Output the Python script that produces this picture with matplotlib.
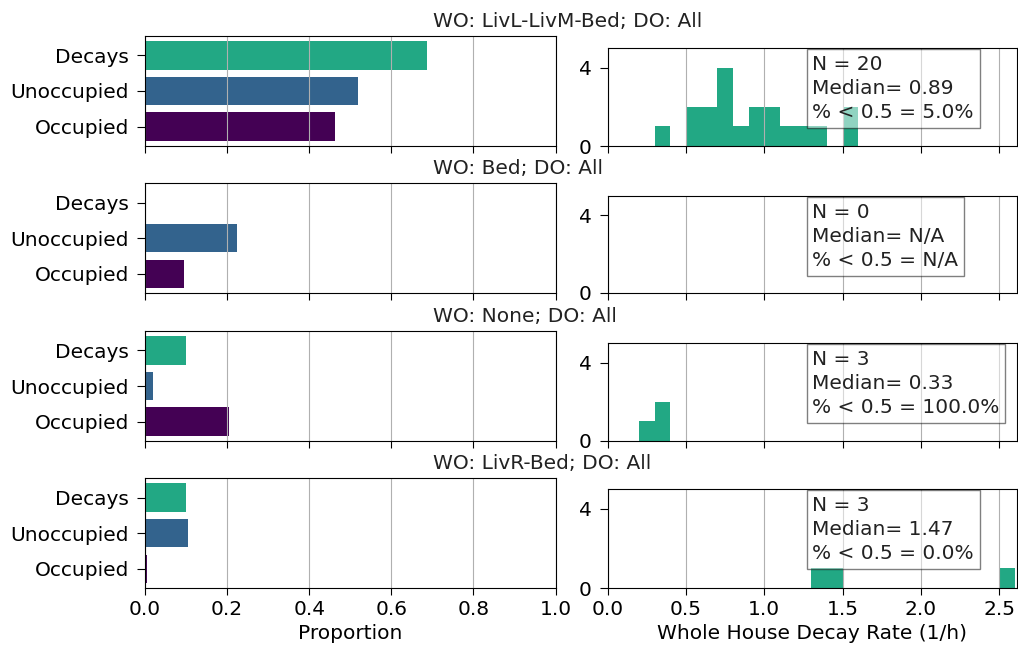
import numpy as np
import matplotlib.pyplot as plt

# categories / colours of the proportion bars
categories = ['Occupied', 'Unoccupied', 'Decays']
bar_colors = ['#440154', '#33638d', '#22a884']
hist_color = '#22a884'

titles = ['WO: LivL-LivM-Bed; DO: All',
          'WO: Bed; DO: All',
          'WO: None; DO: All',
          'WO: LivR-Bed; DO: All']

# proportions (Occupied, Unoccupied, Decays)
prop_1 = [0.462, 0.518, 0.687]
prop_2 = [0.095, 0.223, 0.0]
prop_3 = [0.205, 0.019, 0.101]
prop_4 = [0.006, 0.105, 0.101]

# histogram bins (left edge, width 0.1) and counts
bins_1 = [0.3, 0.5, 0.6, 0.7, 0.8, 0.9, 1.0, 1.1, 1.2, 1.3, 1.5]
counts_1 = [1, 2, 2, 4, 1, 2, 2, 1, 1, 1, 2]
bins_2 = []
counts_2 = []
bins_3 = [0.2, 0.3]
counts_3 = [1, 2]
bins_4 = [1.3, 1.4, 2.5]
counts_4 = [1, 1, 1]
bin_width = 0.1

stats = ['N = 20\nMedian= 0.89\n% < 0.5 = 5.0%',
         'N = 0\nMedian= N/A\n% < 0.5 = N/A',
         'N = 3\nMedian= 0.33\n% < 0.5 = 100.0%',
         'N = 3\nMedian= 1.47\n% < 0.5 = 0.0%']

props = [prop_1, prop_2, prop_3, prop_4]
bins = [bins_1, bins_2, bins_3, bins_4]
counts = [counts_1, counts_2, counts_3, counts_4]

plt.rcParams['font.size'] = 14.5
plt.rcParams['text.color'] = '#222222'
plt.rcParams['xtick.major.size'] = 5
plt.rcParams['ytick.major.size'] = 5.5
plt.rcParams['ytick.major.pad'] = 6

W, H = 1018, 652
fig = plt.figure(figsize=(W / 100, H / 100), dpi=100)

left_tops = [36, 183.3, 331, 478.3]
right_tops = [48, 196, 343, 489]
bottoms = [146, 293, 441, 588]

for i in range(4):
    axl = fig.add_axes([145 / W, 1 - bottoms[i] / H, 410.5 / W, (bottoms[i] - left_tops[i]) / H])
    axr = fig.add_axes([607.7 / W, 1 - bottoms[i] / H, 409.5 / W, (bottoms[i] - right_tops[i]) / H])

    axl.barh(categories, props[i], color=bar_colors)
    axl.set_xlim(0, 1)
    axl.set_xticks(np.arange(0, 1.01, 0.2))
    axl.grid(axis='x')

    if len(bins[i]):
        axr.bar(bins[i], counts[i], width=bin_width, align='edge', color=hist_color)
    axr.set_xlim(0, 2.615)
    axr.set_ylim(0, 5)
    axr.set_yticks([0, 4])
    axr.set_xticks(np.arange(0, 2.6, 0.5))
    axr.grid(axis='x')
    axr.text(0.5, 0.93, stats[i], transform=axr.transAxes, va='top', ha='left',
             linespacing=1.35,
             bbox=dict(facecolor='white', alpha=0.5, edgecolor='black'))

    if i < 3:
        axl.set_xticklabels([])
        axr.set_xticklabels([])
    else:
        axl.set_xlabel('Proportion')
        axr.set_xlabel('Whole House Decay Rate (1/h)')

    fig.text(433 / W, 1 - (left_tops[i] - 5) / H, titles[i], ha='left', va='bottom')

fig.savefig('out.png', dpi=100)
